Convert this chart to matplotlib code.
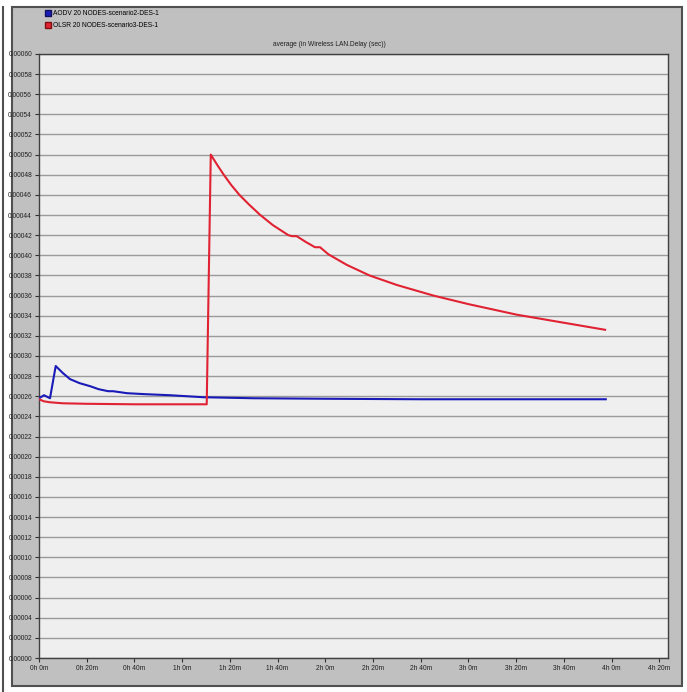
import matplotlib.pyplot as plt
from matplotlib.patches import Rectangle, Patch
from matplotlib.lines import Line2D

# time in minutes, average wireless LAN delay in seconds
aodv_t = [0, 2.1, 4.6, 7, 10, 13, 17, 21.4, 25, 29, 31, 37, 45, 55, 69, 90, 120, 160, 200, 237.6]
aodv_v = [0.000258, 0.000261, 0.000258, 0.000290, 0.000283, 0.000277, 0.000273, 0.000270,
          0.000267, 0.000265, 0.000265, 0.000263, 0.000262, 0.000261, 0.000259, 0.000258,
          0.0002575, 0.000257, 0.000257, 0.000257]

olsr_t = [0, 2, 4.6, 10, 20, 40, 70.3, 72, 74.5, 77.3, 80.5, 84, 88, 92.5, 98, 104.5,
          106, 108, 112, 115.7, 117.8, 121.3, 129, 138.5, 150, 165.3, 180, 200.3, 220, 237.3]
olsr_v = [0.000257, 0.000255, 0.000254, 0.000253, 0.0002525, 0.000252, 0.000252, 0.000500,
          0.0004905, 0.0004805, 0.000470, 0.000460, 0.0004505, 0.0004405, 0.000430, 0.000420,
          0.000419, 0.000419, 0.000413, 0.000408, 0.000408, 0.000401, 0.0003905, 0.000380,
          0.0003705, 0.000360, 0.0003515, 0.000341, 0.000333, 0.000326]

series_names = ["AODV 20 NODES-scenario2-DES-1", "OLSR 20 NODES-scenario3-DES-1"]
x_ticks = list(range(0, 261, 20))
x_labels = [f"{m // 60}h {m % 60}m" for m in x_ticks]
y_ticks = [i * 0.00002 for i in range(31)]

plt.rcParams['font.family'] = ['Liberation Sans Narrow', 'Liberation Sans', 'DejaVu Sans']

fig = plt.figure(figsize=(6.87, 6.92), dpi=100)
fig.patch.set_facecolor('white')

# grey panel behind the chart, with dark border
fig.patches.append(Rectangle((0.0175, 0.0087), 0.9753, 0.9812, transform=fig.transFigure,
                             facecolor='#c0c0c0', edgecolor='#505050', linewidth=1.5, zorder=-5))
fig.lines.append(Line2D([0.004, 0.004], [0.0, 0.99], transform=fig.transFigure,
                        color='#505050', linewidth=1.5, zorder=-5))

ax = fig.add_axes([0.0568, 0.0491, 0.9156, 0.873])
ax.set_facecolor('#efefef')

ax.plot(aodv_t, aodv_v, color='#1a1ab8', linewidth=1.5, zorder=3)
ax.plot(olsr_t, olsr_v, color='#e02232', linewidth=1.5, zorder=3)

ax.set_xlim(0, 263.7)
ax.set_ylim(0, 0.0006)
ax.set_xticks(x_ticks)
ax.set_xticklabels(x_labels)
ax.set_yticks(y_ticks)
ax.set_yticklabels([f"{v:.5f}" for v in y_ticks])
ax.tick_params(axis='both', labelsize=4.8, length=3, width=0.8, color='#303030',
               labelcolor='#202020', pad=2)
ax.yaxis.grid(True, color='#9a9a9a', linewidth=1.0)
ax.set_axisbelow(True)
for sp in ax.spines.values():
    sp.set_color('#404040')
    sp.set_linewidth(1.0)

fig.text(0.48, 0.930, "average (in Wireless LAN.Delay (sec))", ha='center', va='bottom',
         fontsize=4.8, color='#202020')

handles = [Patch(facecolor='#1a1ab8', edgecolor='#101060'),
           Patch(facecolor='#e02232', edgecolor='#801010')]
fig.legend(handles, series_names, loc='upper left', bbox_to_anchor=(0.058, 0.993),
           frameon=False, fontsize=4.8, handlelength=0.9, handleheight=1.1,
           handletextpad=0.4, labelspacing=0.7, borderpad=0.2)

fig.savefig('out.png', dpi=100, facecolor=fig.get_facecolor())
